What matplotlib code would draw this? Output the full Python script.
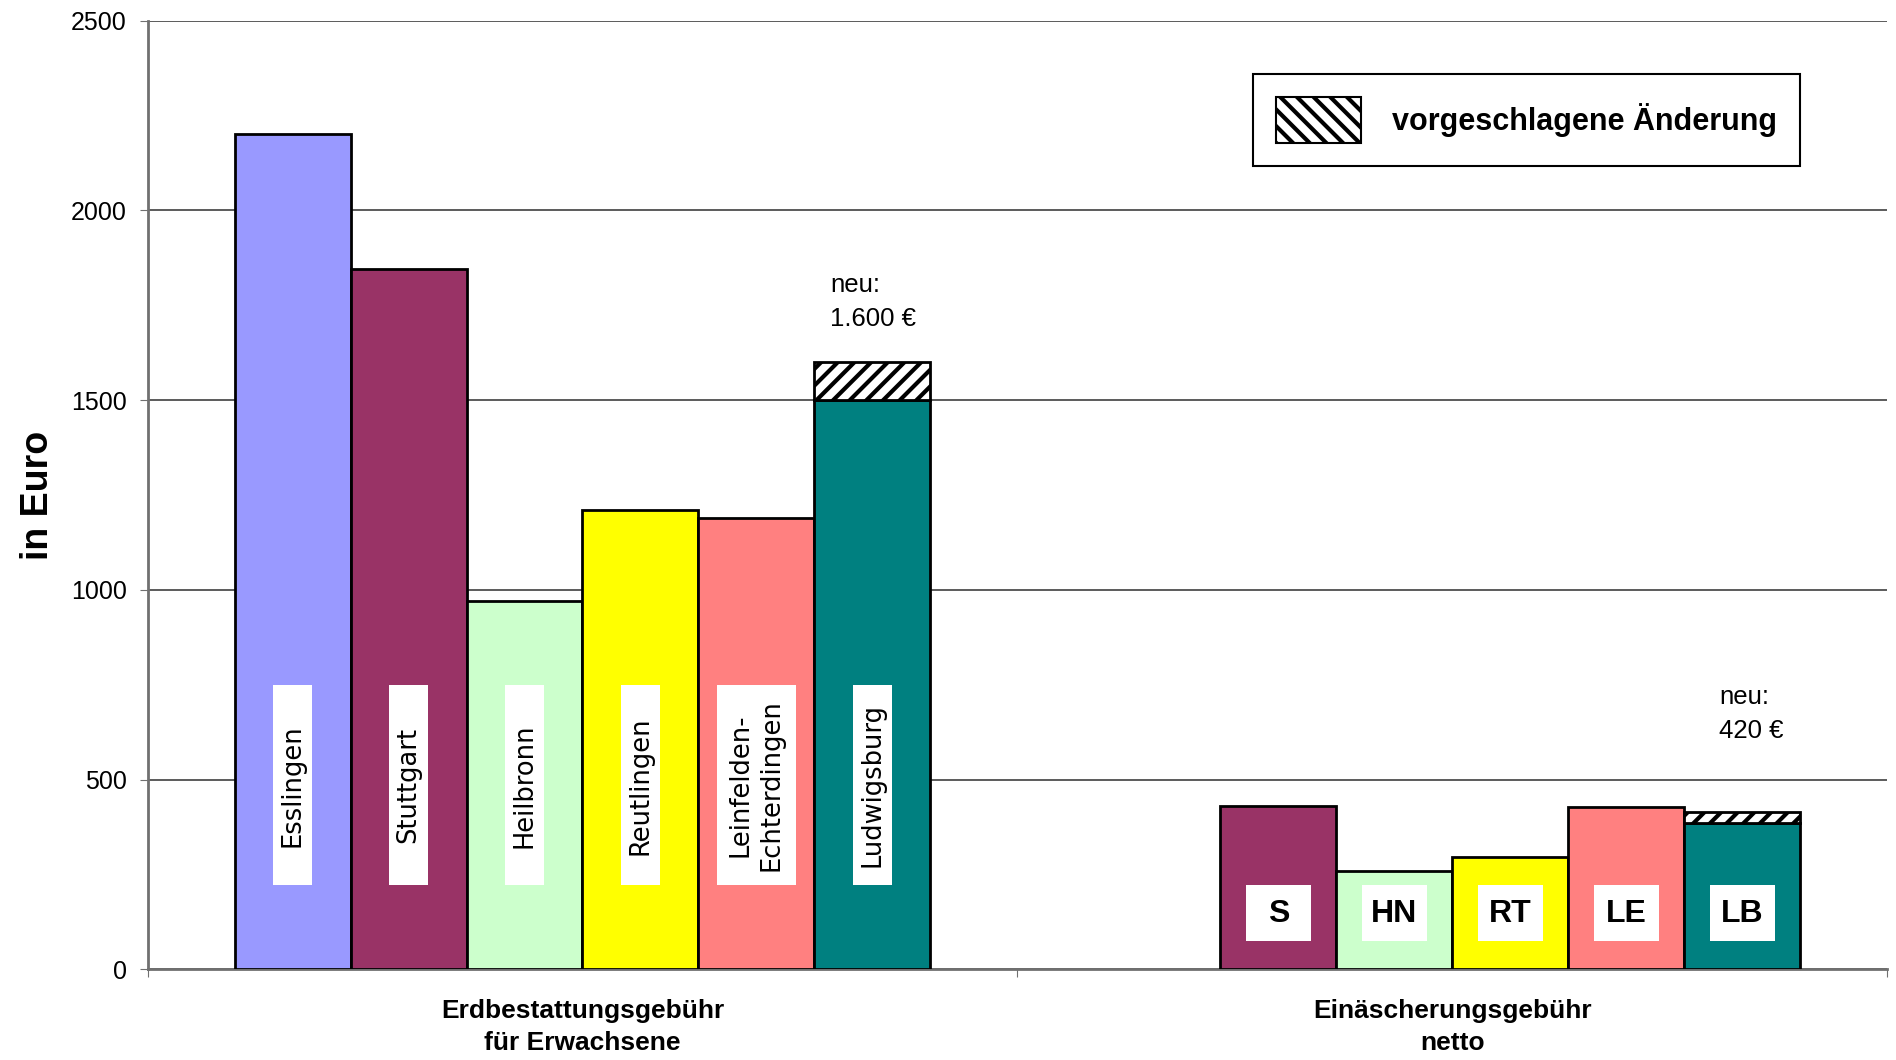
import numpy as np
import matplotlib
matplotlib.use("Agg")
from matplotlib import pyplot as plt
from matplotlib.patches import Patch, Rectangle

# data
groups = ["Erdbestattungsgebühr\nfür Erwachsene", "Einäscherungsgebühr\nnetto"]
cities = ["Esslingen", "Stuttgart", "Heilbronn", "Reutlingen",
          "Leinfelden-\nEchterdingen", "Ludwigsburg"]
short_names = ["", "S", "HN", "RT", "LE", "LB"]
colors = ["#9999FF", "#993366", "#CCFFCC", "#FFFF00", "#FF8080", "#008080"]
burial = [2200, 1845, 970, 1210, 1190, 1500]
cremation = [np.nan, 430, 260, 295, 427, 385]
burial_change = [0, 0, 0, 0, 0, 100]
cremation_change = [0, 0, 0, 0, 0, 30]
new_labels = ["neu:\n1.600 €", "neu:\n420 €"]

plt.rcParams["hatch.linewidth"] = 3.0

fig = plt.figure(figsize=(18.96, 10.6), dpi=100)
ax = fig.add_axes([0.0778, 0.0855, 0.9177, 0.8951])

n = len(cities)
width = 0.8 / n
centers = np.array([0.5, 1.5])

for i in range(n):
    xs = centers - 0.4 + width * (i + 0.5)
    vals = np.array([burial[i], cremation[i]], dtype=float)
    chg = np.array([burial_change[i], cremation_change[i]], dtype=float)
    ok = ~np.isnan(vals)
    ax.bar(xs[ok], vals[ok], width=width, color=colors[i], edgecolor="black",
           linewidth=2, zorder=3)
    has = ok & (chg > 0)
    if has.any():
        ax.bar(xs[has], chg[has], bottom=vals[has], width=width, color="white",
               edgecolor="black", hatch="//", linewidth=2, zorder=3)
        for x, v, c, lab in zip(xs[has], vals[has], chg[has],
                                np.array(new_labels)[has]):
            top = v + c
            ax.text(x - width / 2 + (0.018 if top > 1000 else 0.04),
                    top + (235 if top > 1000 else 335), lab,
                    ha="left", va="top", fontsize=18.5,
                    family="Liberation Sans", linespacing=1.55, zorder=5)

    # long name label on first group
    x0 = xs[0]
    bw = width * (0.34 if "\n" not in cities[i] else 0.68)
    ax.add_patch(Rectangle((x0 - bw / 2, 223), bw, 525, facecolor="white",
                           edgecolor="none", zorder=4))
    ax.text(x0, 485, cities[i], rotation=90, ha="center", va="center",
            fontsize=18.5, family="DejaVu Sans", zorder=5, linespacing=1.25)

    # short label on second group
    if ok[1]:
        x1 = xs[1]
        sw = width * 0.56
        ax.add_patch(Rectangle((x1 - sw / 2, 76), sw, 146, facecolor="white",
                               edgecolor="none", zorder=4))
        ax.text(x1, 146, short_names[i], ha="center", va="center",
                fontsize=23, fontweight="bold", family="Liberation Sans",
                zorder=5)

ax.set_xlim(0, 2)
ax.set_ylim(0, 2500)
ax.set_yticks([0, 500, 1000, 1500, 2000, 2500])
ax.yaxis.grid(True, color="#404040", linewidth=1.2, zorder=0)
ax.set_axisbelow(True)

ax.set_xticks([0, 1, 2])
ax.set_xticklabels([])
ax.set_xticks(centers, minor=True)
ax.set_xticklabels(groups, minor=True, fontsize=19, fontweight="bold",
                   family="Liberation Sans", linespacing=1.45)
ax.tick_params(axis="x", which="minor", length=0, pad=21)
ax.tick_params(axis="x", which="major", length=6, color="#707070")
ax.tick_params(axis="y", length=6, pad=9, color="#707070")
for lab in ax.get_yticklabels():
    lab.set_family("Liberation Sans")
    lab.set_fontsize(18)

for s in ["top", "right"]:
    ax.spines[s].set_visible(False)
ax.spines["left"].set_color("#707070")
ax.spines["left"].set_linewidth(2)
ax.spines["bottom"].set_color("#707070")
ax.spines["bottom"].set_linewidth(2)

ax.set_ylabel("in Euro", fontsize=27, fontweight="bold",
              family="Liberation Sans", labelpad=11)

handle = Patch(facecolor="white", edgecolor="black", hatch="\\\\", linewidth=1.5)
leg = ax.legend([handle], ["vorgeschlagene Änderung"], loc="upper right",
                bbox_to_anchor=(0.9497, 0.9437), borderaxespad=0,
                fancybox=False, framealpha=1, edgecolor="black",
                borderpad=0.75, handlelength=2.8, handleheight=1.95,
                handletextpad=1.0,
                prop={"family": "Liberation Sans", "weight": "bold", "size": 22})
leg.get_frame().set_linewidth(1.5)

fig.savefig("out.png", dpi=100)
